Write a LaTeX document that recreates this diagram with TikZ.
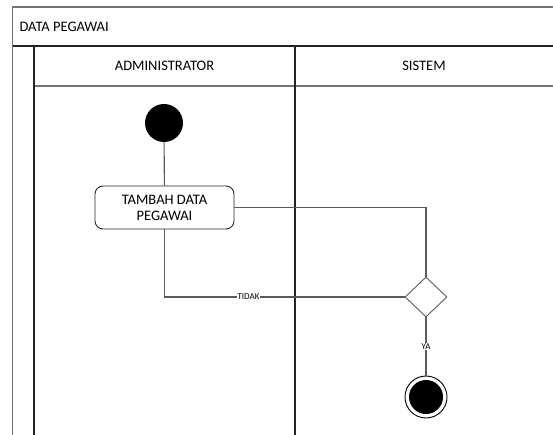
\documentclass[tikz,border=0pt]{standalone}
\usepackage{fontspec}
\setmainfont{Carlito}
\usetikzlibrary{shapes.geometric, positioning}
\definecolor{framegray}{RGB}{115,115,115}
\definecolor{flowgray}{RGB}{90,90,90}
\definecolor{darkline}{RGB}{35,35,35}

\begin{document}
\begin{tikzpicture}[x=1pt, y=-1pt,
    flow/.style={draw=flowgray, line width=1.1pt},
    aksi/.style={draw=black!85, line width=0.9pt, rounded corners=8pt, minimum width=139pt, minimum height=43pt, align=center, inner sep=2pt, font=\fontsize{14.5}{16}\selectfont},
    mulai/.style={circle, fill=black, minimum size=38pt, inner sep=0pt},
    selesai/.style={circle, draw=black, line width=0.9pt, minimum size=42pt, inner sep=0pt},
    cabang/.style={diamond, draw=flowgray, line width=0.9pt, minimum width=42pt, minimum height=40pt, inner sep=0pt},
    judul/.style={font=\fontsize{14.5}{16}\selectfont},
    kecil/.style={fill=white, inner sep=1pt, font=\fontsize{9}{10}\selectfont}]
    \useasboundingbox (0,0) rectangle (553,435);
    \clip (0,0) rectangle (553,435);

    % Swimlane frame
    \draw[framegray, line width=1.2pt] (12.5,445) -- (12.5,7) -- (560,7);
    \draw[darkline, line width=1.1pt] (12.5,46) -- (560,46);
    \draw[framegray, line width=1.2pt] (34,86) -- (560,86);
    \draw[darkline, line width=1.1pt] (34,46) -- (34,445);
    \draw[darkline, line width=1.1pt] (295,46) -- (295,445);

    % Titles
    \node[judul, anchor=west] (judulDiagram) at (16,27) {DATA PEGAWAI};
    \node[judul] (laneAdmin) at (164.5,66) {ADMINISTRATOR};
    \node[judul] (laneSistem) at (424,66) {SISTEM};

    % Activity nodes
    \node[mulai] (start) at (164,123) {};
    \node[aksi] (tambah) at (164.5,207.5) {TAMBAH DATA\\PEGAWAI};
    \node[cabang] (cek) at (426,297) {};
    \node[selesai] (akhir) at (426,397) {};
    \fill[black] (akhir) circle (17pt);

    % Flows
    \draw[flow] (start) -- (tambah);
    \draw[flow] (tambah.east) -| (cek.north);
    \draw[flow] (tambah.south) |- (cek.west) node[kecil, pos=0.675] {TIDAK};
    \draw[flow] (cek.south) -- (akhir) node[kecil, midway] {YA};
\end{tikzpicture}
\end{document}
